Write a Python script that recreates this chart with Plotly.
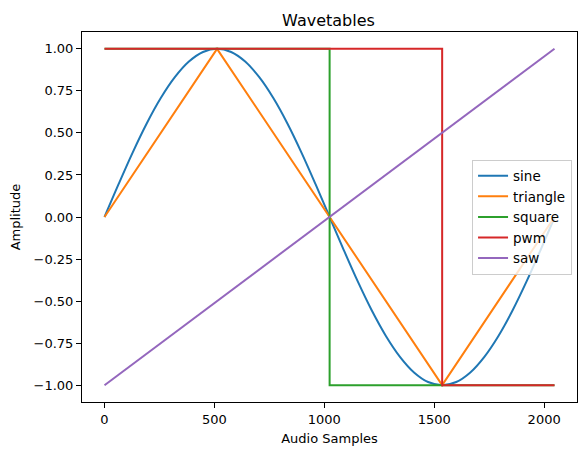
import plotly.graph_objects as go

# Wavetable samples
sine_x = list(range(0, 2049, 64))
sine_y = [0.0, 0.195, 0.383, 0.556, 0.707, 0.831, 0.924, 0.981, 1.0,
          0.981, 0.924, 0.831, 0.707, 0.556, 0.383, 0.195, 0.0,
          -0.195, -0.383, -0.556, -0.707, -0.831, -0.924, -0.981, -1.0,
          -0.981, -0.924, -0.831, -0.707, -0.556, -0.383, -0.195, 0.0]

triangle_x = [0, 512, 1536, 2047]
triangle_y = [0.0, 1.0, -1.0, 0.0]

square_x = [0, 1024, 1024, 2047]
square_y = [1.0, 1.0, -1.0, -1.0]

pwm_x = [0, 1536, 1536, 2047]
pwm_y = [1.0, 1.0, -1.0, -1.0]

saw_x = [0, 2047]
saw_y = [-1.0, 1.0]

colors = ['#1f77b4', '#ff7f0e', '#2ca02c', '#d62728', '#9467bd']

fig = go.Figure()
series = [('sine', sine_x, sine_y, 'spline'), ('triangle', triangle_x, triangle_y, 'linear'),
          ('square', square_x, square_y, 'linear'), ('pwm', pwm_x, pwm_y, 'linear'),
          ('saw', saw_x, saw_y, 'linear')]
for (name, xs, ys, shape), c in zip(series, colors):
    fig.add_trace(go.Scatter(x=xs, y=ys, name=name, mode='lines',
                             line=dict(color=c, width=2, shape=shape)))

axis_style = dict(showgrid=False, zeroline=False, showline=True, linecolor='black',
                  linewidth=1, mirror=True, ticks='outside', ticklen=5, automargin=False,
                  tickcolor='black', tickfont=dict(size=13, color='black'))

# page body adds ~8px offset, so margins are shifted to compensate
fig.update_layout(
    width=587, height=455,
    margin=dict(l=74, r=18, t=24, b=61),
    plot_bgcolor='white', paper_bgcolor='white',
    font=dict(family='DejaVu Sans', size=13, color='black'),
    title=dict(text='Wavetables', x=0.546, xanchor='center', y=0.985, yanchor='top',
               yref='container', font=dict(size=16)),
    xaxis=dict(title=dict(text='Audio Samples', font=dict(size=13), standoff=8),
               range=[-102.35, 2149.35], tickvals=[0, 500, 1000, 1500, 2000], **axis_style),
    yaxis=dict(title=dict(text='Amplitude', font=dict(size=13), standoff=10),
               range=[-1.1, 1.1], tickvals=[-1, -0.75, -0.5, -0.25, 0, 0.25, 0.5, 0.75, 1],
               tickformat='.2f', **axis_style),
    legend=dict(x=0.99, xanchor='right', y=0.5, yanchor='middle',
                bgcolor='rgba(255,255,255,0.8)', bordercolor='#cccccc', borderwidth=1,
                font=dict(size=13.5), itemwidth=30, tracegroupgap=0),
)

fig.write_html("out.html")
